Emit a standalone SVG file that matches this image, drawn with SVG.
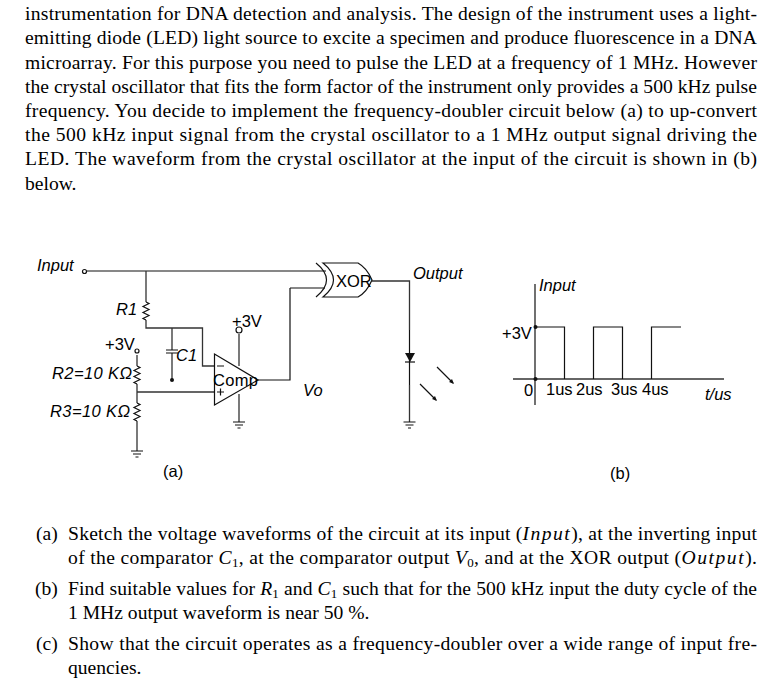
<svg xmlns="http://www.w3.org/2000/svg" width="784" height="688" viewBox="0 0 784 688">
<style>
.t{font-family:"Liberation Serif",serif;font-size:19.6px;fill:#000}
.i{font-style:italic}
.m{font-style:italic;letter-spacing:1.2px}
.s{font-size:13px}
.d{font-family:"Liberation Sans",sans-serif;font-size:16.5px;fill:#000}
.w{fill:none;stroke:#333;stroke-width:1.3}
.k{fill:none;stroke:#111;stroke-width:1.2}
.f{fill:#111;stroke:none}
</style>
<defs>
<path id="res" class="k" d="M0 0l3 1.500l-6 3l6 3l-6 3l6 3l-6 3l3 1.500"/>
<path id="gnd" class="k" d="M-6 0H6M-4 3H4M-1.500 6H1.500"/>
</defs>
<rect width="784" height="688" fill="#fff"/>
<g id="question-text">
<text class="t" x="25" y="20" textLength="732">instrumentation for DNA detection and analysis. The design of the instrument uses a light-</text>
<text class="t" x="25" y="44.300" textLength="732">emitting diode (LED) light source to excite a specimen and produce fluorescence in a DNA</text>
<text class="t" x="25" y="68.500" textLength="732">microarray. For this purpose you need to pulse the LED at a frequency of 1 MHz. However</text>
<text class="t" x="25" y="92.700" textLength="732">the crystal oscillator that fits the form factor of the instrument only provides a 500 kHz pulse</text>
<text class="t" x="25" y="116.900" textLength="732">frequency. You decide to implement the frequency-doubler circuit below (a) to up-convert</text>
<text class="t" x="25" y="141" textLength="732">the 500 kHz input signal from the crystal oscillator to a 1 MHz output signal driving the</text>
<text class="t" x="25" y="165.300" textLength="732">LED. The waveform from the crystal oscillator at the input of the circuit is shown in (b)</text>
<text class="t" x="25" y="189.500">below.</text>
</g>
<g id="connectors">
<path class="k" d="M87 271H326M290 288H325M258 380H290V288"/>
<path class="w" d="M146 271V302M146 320V328H202.500V366H214.500M172 328V350M172 353V380M137 355V366M137 384V403M137 421V451M137 392H214.500M239 334V366M239 394V422M372 281H409.500V330M409.500 385V422"/>
<path class="k" stroke-width="2" d="M409.500 330V385"/>
</g>
<g id="input-terminal"><circle class="k" cx="84.500" cy="271.500" r="2"/><text class="d i" x="37" y="271">Input</text></g>
<g id="r1"><use href="#res" x="146" y="302"/><text class="d i" x="116" y="315">R1</text></g>
<g id="c1"><path class="k" d="M166 350H178M166 353H178"/><circle class="f" cx="172" cy="380" r="2"/><text class="d i" x="176" y="361">C1</text></g>
<g id="vcc-r2"><circle class="k" cx="137" cy="351" r="2"/><text class="d" x="105" y="350">+3V</text></g>
<g id="r2"><use href="#res" x="137" y="366"/><text class="d i" x="52" y="379" textLength="80">R2=10 KΩ</text></g>
<g id="r3"><use href="#res" x="137" y="403"/><text class="d i" x="50" y="417" textLength="80">R3=10 KΩ</text></g>
<g id="gnd-r3"><use href="#gnd" x="137" y="451"/></g>
<g id="comparator"><path class="k" d="M214.500 354V405L258 380Z"/><path class="k" d="M217 366H224M217 392H224M220.500 388.500V395.500"/><text class="d" x="213" y="386" textLength="45">Comp</text></g>
<g id="vcc-comp"><circle class="k" cx="239" cy="330" r="3"/><text class="d" x="232" y="327">+3V</text></g>
<g id="gnd-comp"><use href="#gnd" x="239" y="422"/></g>
<g id="xor"><path class="k" d="M316 263Q337 280 316 297M323 263H358Q367 268 372 280Q367 292 358 297H323Q344 280 323 263Z"/><text class="d" x="336" y="287">XOR</text></g>
<g id="output-label"><text class="d i" x="413" y="279">Output</text></g>
<g id="vo-label"><text class="d i" x="303" y="396">Vo</text></g>
<g id="led"><path class="f" d="M405 353H415L410 362Z"/><path class="k" d="M405 362H415"/><path class="k" d="M437 367L453 383M420 384L436 400"/><path class="f" d="M454 384L449 382L452 379ZM437 401L432 399L435 396Z"/></g>
<g id="gnd-led"><use href="#gnd" x="409.500" y="422"/></g>
<text class="d" x="163" y="477">(a)</text>
<g id="waveform">
<path class="k" d="M535 284V405"/><path class="w" d="M513 379H724"/>
<path class="k" d="M535.500 327H564.500V379M593.500 379V327H622.500V379M651.500 379V327H681"/>
<circle class="f" cx="535.500" cy="327" r="2"/><circle class="f" cx="535.500" cy="379" r="2"/>
<text class="d i" x="539" y="291">Input</text>
<text class="d" x="502" y="339">+3V</text>
<text class="d" x="524" y="396">0</text>
<text class="d" x="546" y="395">1us</text>
<text class="d" x="576" y="395">2us</text>
<text class="d" x="611" y="395">3us</text>
<text class="d" x="642" y="395">4us</text>
<text class="d i" x="705" y="400">t/us</text>
</g>
<text class="d" x="610" y="479">(b)</text>
<g id="questions">
<text class="t" x="36" y="539.500">(a)</text>
<text class="t" x="68" y="539.500" textLength="689">Sketch the voltage waveforms of the circuit at its input (<tspan class="m">Input</tspan>), at the inverting input</text>
<text class="t" x="68" y="563.500" textLength="689">of the comparator <tspan class="i">C</tspan><tspan class="s" dy="3">1</tspan><tspan dy="-3">, at the comparator output </tspan><tspan class="i">V</tspan><tspan class="s" dy="3">0</tspan><tspan dy="-3">, and at the XOR output (</tspan><tspan class="m">Output</tspan>).</text>
<text class="t" x="35" y="594.500">(b)</text>
<text class="t" x="68" y="594.500" textLength="689">Find suitable values for <tspan class="i">R</tspan><tspan class="s" dy="3">1</tspan><tspan dy="-3"> and </tspan><tspan class="i">C</tspan><tspan class="s" dy="3">1</tspan><tspan dy="-3"> such that for the 500 kHz input the duty cycle of the</tspan></text>
<text class="t" x="68" y="618.500">1 MHz output waveform is near 50 %.</text>
<text class="t" x="36" y="649.500">(c)</text>
<text class="t" x="68" y="649.500" textLength="689">Show that the circuit operates as a frequency-doubler over a wide range of input fre-</text>
<text class="t" x="68" y="673.500">quencies.</text>
</g>
</svg>
